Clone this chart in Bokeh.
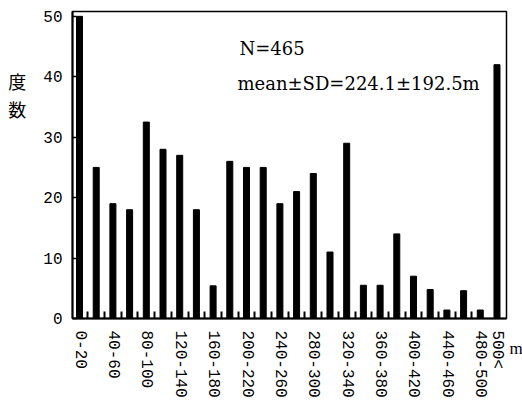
from bokeh.plotting import figure
from bokeh.models import Range1d, FixedTicker, Label, LinearAxis
from bokeh.embed import file_html
from bokeh.resources import INLINE

# --- data ---
categories = ["0-20", "20-40", "40-60", "60-80", "80-100", "100-120", "120-140",
              "140-160", "160-180", "180-200", "200-220", "220-240", "240-260",
              "260-280", "280-300", "300-320", "320-340", "340-360", "360-380",
              "380-400", "400-420", "420-440", "440-460", "460-480", "480-500", "500<"]
counts = [50, 25, 19, 18, 32.5, 28, 27, 18, 5.4, 26, 25, 25, 19, 21, 24, 11,
          29, 5.5, 5.5, 14, 7, 4.8, 1.4, 4.6, 1.4, 42]
y_ticks = [0, 10, 20, 30, 40, 50]
shown_label_idx = list(range(0, 25, 2)) + [25]
stats_n = "N=465"
stats_mean = "mean\u00b1SD=224.1\u00b1192.5m"
y_title = "度\n数"
x_unit = "m"

idx = list(range(len(categories)))

p = figure(frame_width=434, frame_height=307,
           x_range=Range1d(-0.42, 25.57), y_range=Range1d(0, 50.8),
           output_backend="svg", toolbar_location=None,
           min_border_left=72, min_border_right=16, min_border_top=11,
           min_border_bottom=89)
p.background_fill_color = "white"
p.border_fill_color = "white"
p.outline_line_color = "black"
p.outline_line_width = 1.5
p.xgrid.visible = False
p.ygrid.visible = False

p.vbar(x=idx, top=counts, width=0.36, color="black")

# y axis
ya = p.yaxis[0]
ya.ticker = FixedTicker(ticks=y_ticks, minor_ticks=[])
ya.major_tick_in = 4
ya.major_tick_out = 0
ya.major_tick_line_width = 1.5
ya.axis_line_width = 2
ya.major_label_standoff = 10
ya.major_label_text_font = "Liberation Mono"
ya.major_label_text_font_size = "16px"
ya.major_label_text_color = "black"
ya.axis_label = "\n" * 6 + y_title
ya.axis_label_orientation = "horizontal"
ya.axis_label_align = "end"
ya.axis_label_text_baseline = "top"
ya.axis_label_standoff = 14
ya.axis_label_text_font = "Noto Sans CJK JP"
ya.axis_label_text_font_size = "18px"
ya.axis_label_text_font_style = "normal"
ya.axis_label_text_line_height = 1.07
ya.axis_label_text_color = "black"

# x axis
xa = p.xaxis[0]
xa.ticker = FixedTicker(ticks=shown_label_idx,
                        minor_ticks=[i + 0.5 for i in range(24)])
xa.major_label_overrides = {i: categories[i] for i in shown_label_idx}
xa.major_tick_in = 0
xa.major_tick_out = 0
xa.minor_tick_in = 7
xa.minor_tick_out = 0
xa.minor_tick_line_width = 2
xa.axis_line_width = 2
xa.major_label_orientation = "vertical"
xa.major_label_standoff = 12
xa.major_label_text_font = "Liberation Mono"
xa.major_label_text_font_size = "16px"
xa.major_label_text_color = "black"

# unit label on the right side
ra = LinearAxis(ticker=FixedTicker(ticks=[], minor_ticks=[]),
                axis_line_color=None, major_tick_line_color=None,
                minor_tick_line_color=None, major_label_standoff=0,
                major_label_text_font_size="0px",
                axis_label="\n\n" + x_unit, axis_label_orientation="horizontal",
                axis_label_align="start", axis_label_standoff=3,
                axis_label_text_font="Liberation Serif",
                axis_label_text_font_size="17px",
                axis_label_text_font_style="normal",
                axis_label_text_baseline="top",
                axis_label_text_line_height=1.6,
                axis_label_text_color="black")
p.add_layout(ra, "right")

# stats text
p.add_layout(Label(x=9.58, y=44.7, text=stats_n, text_font="DejaVu Serif",
                   text_font_size="18px", text_color="black",
                   text_baseline="alphabetic"))
p.add_layout(Label(x=9.46, y=38.9, text=stats_mean, text_font="DejaVu Serif",
                   text_font_size="18px", text_color="black",
                   text_baseline="alphabetic"))

open("out.html", "w").write(file_html(p, INLINE))
